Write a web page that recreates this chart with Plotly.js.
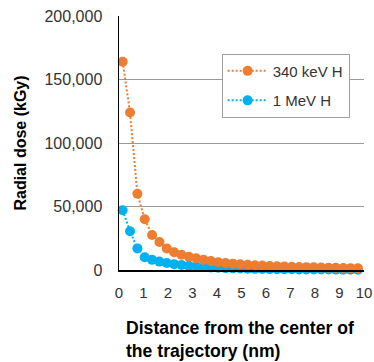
<!DOCTYPE html>
<html>
<head>
<meta charset="utf-8">
<script src="https://cdn.plot.ly/plotly-3.0.1.min.js"></script>
<style>html,body{margin:0;padding:0;background:#fff;}#chart{width:374px;height:362px;}</style>
</head>
<body>
<div id="chart"></div>
<script>
// Distance from the center of the trajectory (nm)
const distance = [0.15, 0.45, 0.75, 1.05, 1.35, 1.65, 1.95, 2.25, 2.55, 2.85,
  3.15, 3.45, 3.75, 4.05, 4.35, 4.65, 4.95, 5.25, 5.55, 5.85,
  6.15, 6.45, 6.75, 7.05, 7.35, 7.65, 7.95, 8.25, 8.55, 8.85,
  9.15, 9.45, 9.75];
// Radial dose (kGy), 340 keV H
const dose340keV = [164000, 124000, 60000, 40000, 27500, 22000, 17000, 14000, 12000, 10500,
  9200, 8000, 7000, 6200, 5500, 5000, 4500, 4100, 3800, 3500,
  3200, 3000, 2800, 2600, 2400, 2250, 2100, 1950, 1800, 1700,
  1600, 1450, 1350];
// Radial dose (kGy), 1 MeV H
const dose1MeV = [47000, 30500, 17000, 10000, 8000, 6600, 5500, 4600, 3900, 3300,
  2800, 2400, 2000, 1750, 1500, 1300, 1150, 1000, 900, 800,
  720, 650, 590, 530, 480, 440, 400, 370, 340, 310,
  290, 270, 250];
const seriesNames = ['340 keV H', '1 MeV H'];
const yTicks = [0, 50000, 100000, 150000, 200000];
const xTicks = [0, 1, 2, 3, 4, 5, 6, 7, 8, 9, 10];

const FONT = 'Liberation Sans, Arial, sans-serif';
const ORANGE = '#ED7D31';
const BLUE = '#00B0F0';

const traces = [
  {
    x: distance, y: dose1MeV, name: seriesNames[1], type: 'scatter', mode: 'lines+markers',
    line: {color: BLUE, width: 2, dash: '2px,2px'},
    marker: {color: BLUE, size: 10},
    legendrank: 2, legendgroup: 'b', cliponaxis: false
  },
  {
    x: distance, y: dose340keV, name: seriesNames[0], type: 'scatter', mode: 'lines+markers',
    line: {color: ORANGE, width: 2, dash: '2px,2px'},
    marker: {color: ORANGE, size: 10},
    legendrank: 1, legendgroup: 'a', cliponaxis: false
  }
];

const layout = {
  width: 374, height: 362,
  margin: {l: 119, r: 10, t: 16, b: 92, pad: 0},
  paper_bgcolor: '#fff', plot_bgcolor: '#fff',
  font: {family: FONT, size: 15, color: '#333'},
  showlegend: true,
  legend: {
    x: 0.419, y: 0.852, xanchor: 'left', yanchor: 'top',
    bgcolor: '#fff', bordercolor: '#a0a0a0', borderwidth: 1,
    font: {family: FONT, size: 15, color: '#333'},
    itemwidth: 40, tracegroupgap: 7, traceorder: 'grouped'
  },
  xaxis: {
    range: [0, 10], tickvals: xTicks, ticktext: xTicks.map(String),
    showgrid: false, zeroline: false,
    showline: true, linecolor: '#000', linewidth: 1.5,
    ticks: 'outside', ticklen: 8, tickcolor: 'rgba(0,0,0,0)',
    tickfont: {family: FONT, size: 15, color: '#333'}
  },
  yaxis: {
    range: [0, 200000], tickvals: yTicks, tickformat: ',d',
    showgrid: true, gridcolor: '#9a9a9a', gridwidth: 1, zeroline: false,
    showline: true, linecolor: '#000', linewidth: 1.5,
    ticks: 'outside', ticklen: 12, tickcolor: 'rgba(0,0,0,0)',
    tickfont: {family: FONT, size: 16, color: '#333'},
    title: {text: '<b>Radial dose (kGy)</b>', font: {family: FONT, size: 16, color: '#000'}, standoff: 14}
  },
  annotations: [{
    xref: 'paper', yref: 'paper', x: 0.02, y: -0.18, xanchor: 'left', yanchor: 'top',
    align: 'left', showarrow: false,
    text: '<b>Distance from the center of<br>the trajectory (nm)</b>',
    font: {family: FONT, size: 17.6, color: '#000'}
  }]
};

Plotly.newPlot('chart', traces, layout, {displayModeBar: false, staticPlot: true});
</script>
</body>
</html>
